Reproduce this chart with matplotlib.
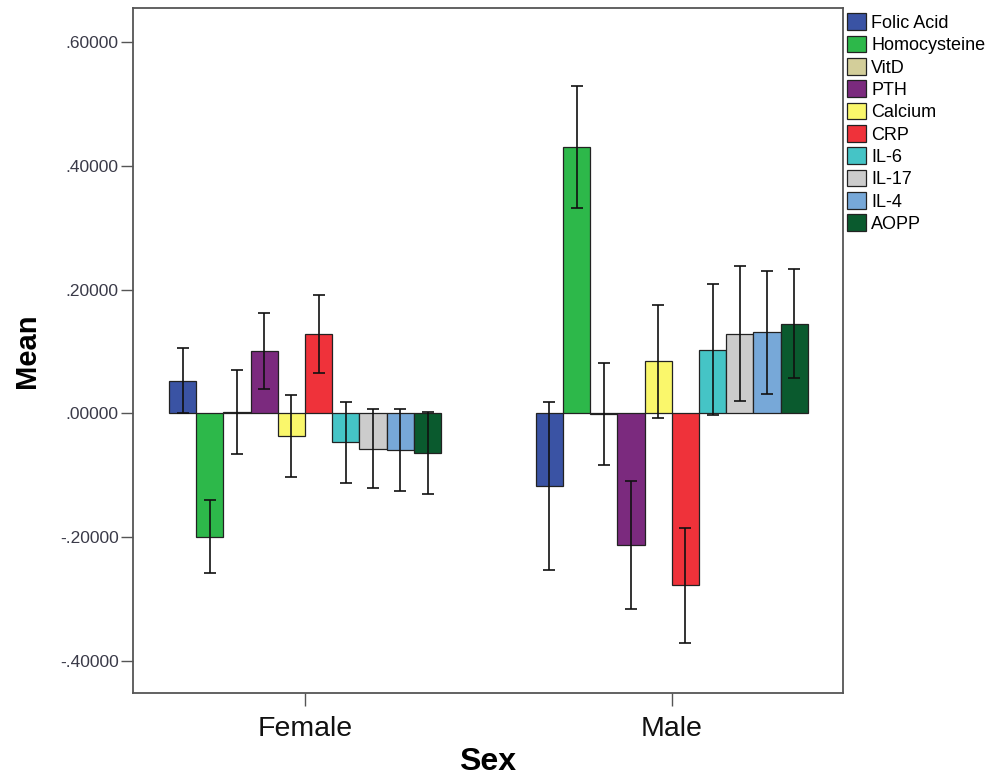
import matplotlib.pyplot as plt
import numpy as np

plt.rcParams['font.family'] = ['Liberation Sans', 'DejaVu Sans']

groups = ['Female', 'Male']
markers = ['Folic Acid', 'Homocysteine', 'VitD', 'PTH', 'Calcium', 'CRP',
           'IL-6', 'IL-17', 'IL-4', 'AOPP']
colors = ['#3a53a4', '#2db84a', '#d3ce9a', '#7b2a7e', '#faf76b', '#ef323a',
          '#45c4c6', '#cccccc', '#77a8d8', '#0a5a2e']

female_mean = [0.053, -0.199, 0.002, 0.101, -0.036, 0.129,
               -0.047, -0.057, -0.059, -0.064]
female_err = [0.053, 0.059, 0.068, 0.062, 0.066, 0.063,
              0.066, 0.064, 0.066, 0.067]
male_mean = [-0.117, 0.431, -0.001, -0.213, 0.084, -0.278,
             0.103, 0.129, 0.131, 0.145]
male_err = [0.136, 0.099, 0.082, 0.103, 0.091, 0.093,
            0.106, 0.109, 0.100, 0.088]

fig = plt.figure(figsize=(9.97, 7.83), dpi=100)
ax = fig.add_axes([132.7 / 997, 1 - 693.3 / 783, (842.7 - 132.7) / 997, (693.3 - 8) / 783])

x = np.arange(len(groups))
width = 0.0742
n = len(markers)
for i, name in enumerate(markers):
    pos = x + (i - (n - 1) / 2) * width
    vals = [female_mean[i], male_mean[i]]
    errs = [female_err[i], male_err[i]]
    ax.bar(pos, vals, width, color=colors[i], edgecolor='#222222', linewidth=0.9,
           label=name, zorder=2)
    ax.errorbar(pos, vals, yerr=errs, fmt='none', ecolor='#111111', elinewidth=1.2,
                capsize=4, capthick=1.2, zorder=3)

ax.set_xlim(-0.47, 1.466)
ax.set_ylim(-0.4525, 0.6555)
ax.set_yticks([-0.4, -0.2, 0.0, 0.2, 0.4, 0.6])
ax.set_yticklabels(['-.40000', '-.20000', '.00000', '.20000', '.40000', '.60000'],
                   fontsize=12.5, color='#3a3a48')
ax.set_xticks(x)
ax.set_xticklabels(groups, fontsize=20.5, color='#111111')
ax.tick_params(axis='both', direction='out', length=9, width=1, color='#555555')
ax.tick_params(axis='y', pad=1)
ax.tick_params(axis='x', pad=7)
for s in ax.spines.values():
    s.set_color('#555555')
    s.set_linewidth(1.3)

ax.set_ylabel('Mean', fontsize=21, fontweight='bold', labelpad=14)
ax.set_xlabel('Sex', fontsize=23, fontweight='bold', labelpad=4)

ax.legend(loc='upper left', bbox_to_anchor=(0.998, 1.0), frameon=False,
          fontsize=13, handlelength=1.05, handleheight=1.05, handletextpad=0.3,
          labelspacing=0.21, borderaxespad=0.2, borderpad=0.1)

fig.savefig('out.png', dpi=100)
